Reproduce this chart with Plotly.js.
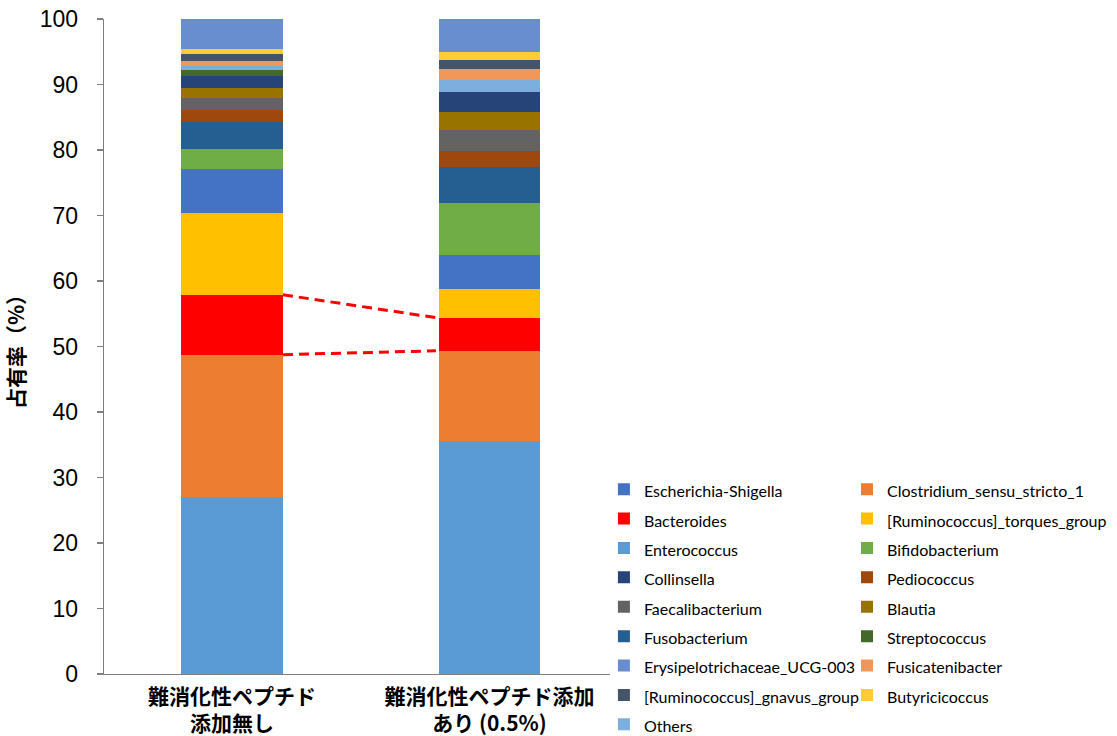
<!DOCTYPE html>
<html>
<head>
<meta charset="utf-8">
<script src="https://cdn.plot.ly/plotly-3.0.1.min.js"></script>
<style>html,body{margin:0;padding:0;background:#fff;}#chart{width:1117px;height:736px;}</style>
</head>
<body>
<div id="chart"></div>
<script>
// Categories (x axis)
const categories = ['難消化性ペプチド<br>添加無し', '難消化性ペプチド添加<br>あり (0.5%)'];

// Series in stacking order (bottom -> top)
const species = [
  'Enterococcus', 'Clostridium_sensu_stricto_1', 'Bacteroides', '[Ruminococcus]_torques_group',
  'Escherichia-Shigella', 'Bifidobacterium', 'Fusobacterium', 'Pediococcus',
  'Faecalibacterium', 'Blautia', 'Collinsella', 'Streptococcus',
  'Others', 'Fusicatenibacter', '[Ruminococcus]_gnavus_group', 'Butyricicoccus',
  'Erysipelotrichaceae_UCG-003'
];
// Occupancy (%) without additive
const noAddition = [27.0, 21.75, 9.15, 12.5, 6.65, 3.15, 4.05, 1.9, 1.85, 1.5, 1.85, 0.85, 0.7, 0.7, 1.05, 0.75, 4.6];
// Occupancy (%) with 0.5% additive
const withAddition = [35.6, 13.75, 5.05, 4.4, 5.2, 7.85, 5.55, 2.45, 3.2, 2.8, 2.95, 0.1, 1.85, 1.55, 1.4, 1.3, 5.0];
// Legend order (row-major, two columns)
const legendOrder = [
  'Escherichia-Shigella', 'Clostridium_sensu_stricto_1', 'Bacteroides', '[Ruminococcus]_torques_group',
  'Enterococcus', 'Bifidobacterium', 'Collinsella', 'Pediococcus', 'Faecalibacterium', 'Blautia',
  'Fusobacterium', 'Streptococcus', 'Erysipelotrichaceae_UCG-003', 'Fusicatenibacter',
  '[Ruminococcus]_gnavus_group', 'Butyricicoccus', 'Others'
];
const highlighted = 'Bacteroides';

// Styles
const colors = {
  'Enterococcus': '#5B9BD5', 'Clostridium_sensu_stricto_1': '#ED7D31', 'Bacteroides': '#FF0000',
  '[Ruminococcus]_torques_group': '#FFC000', 'Escherichia-Shigella': '#4472C4', 'Bifidobacterium': '#70AD47',
  'Fusobacterium': '#255E91', 'Pediococcus': '#9E480E', 'Faecalibacterium': '#636363', 'Blautia': '#997300',
  'Collinsella': '#264478', 'Streptococcus': '#43682B', 'Others': '#7CAFDD', 'Fusicatenibacter': '#F1975A',
  '[Ruminococcus]_gnavus_group': '#44546A', 'Butyricicoccus': '#FFCD33', 'Erysipelotrichaceae_UCG-003': '#698ED0'
};
const barWidth = 0.396;

const traces = species.map((name, i) => {
  const rank = legendOrder.indexOf(name);
  return {
    type: 'bar',
    name: '<span style="font-size:16px">' + name + '</span>',
    x: categories,
    y: [noAddition[i], withAddition[i]],
    width: barWidth,
    marker: {color: colors[name], line: {width: 0}},
    legend: rank % 2 === 0 ? 'legend' : 'legend2',
    legendrank: rank + 1,
    hoverinfo: 'y'
  };
});

// Dashed guide lines from the Bacteroides segment boundaries
const hi = species.indexOf(highlighted);
const sum = (arr, n) => arr.slice(0, n).reduce((a, b) => a + b, 0);
const leftBottom = sum(noAddition, hi), leftTop = sum(noAddition, hi + 1);
const rightBottom = sum(withAddition, hi), rightTop = sum(withAddition, hi + 1);
const dash = {color: '#FF0000', width: 3, dash: '10px,6px'};
const shapes = [
  {type: 'line', xref: 'x', yref: 'y', x0: barWidth / 2, x1: 1 - barWidth / 2 - 0.01, y0: leftTop, y1: rightTop, line: dash},
  {type: 'line', xref: 'x', yref: 'y', x0: barWidth / 2, x1: 1 - barWidth / 2 - 0.01, y0: leftBottom, y1: rightBottom, line: dash}
];

const legendFont = {family: 'Lato, Liberation Sans, sans-serif', size: 20.3, color: '#000'};

const layout = {
  width: 1117, height: 736,
  margin: {l: 104, r: 507, t: 19, b: 62, autoexpand: false},
  paper_bgcolor: '#fff', plot_bgcolor: '#fff',
  barmode: 'stack',
  showlegend: true,
  font: {family: 'Liberation Sans, Arial, sans-serif', color: '#000'},
  xaxis: {
    type: 'category',
    range: [-0.497, 1.468],
    showline: true, linecolor: '#7F7F7F', linewidth: 1.3,
    ticks: '', showgrid: false, zeroline: false,
    ticklabelstandoff: 3,
    tickfont: {family: 'Noto Sans CJK JP, sans-serif', size: 21, color: '#000', weight: 'bold'},
    automargin: false
  },
  yaxis: {
    range: [0, 100], dtick: 10, tick0: 0,
    showline: true, linecolor: '#7F7F7F', linewidth: 1.3,
    ticks: 'outside', ticklen: 6, tickcolor: '#7F7F7F', tickwidth: 1.3,
    ticklabelstandoff: 14,
    showgrid: false, zeroline: false,
    tickfont: {family: 'Liberation Sans, Arial, sans-serif', size: 23, color: '#000'},
    title: {text: '占有率（%）', font: {family: 'Noto Sans CJK JP, sans-serif', size: 21, color: '#000', weight: 'bold'}, standoff: 9},
    automargin: false
  },
  legend: {
    orientation: 'v',
    x: 0.988, xanchor: 'left',
    y: 0.3122, yanchor: 'top',
    traceorder: 'normal',
    font: legendFont,
    bgcolor: 'rgba(0,0,0,0)'
  },
  legend2: {
    orientation: 'v',
    x: 1.4684, xanchor: 'left',
    y: 0.3122, yanchor: 'top',
    traceorder: 'normal',
    font: legendFont,
    bgcolor: 'rgba(0,0,0,0)'
  },
  shapes: shapes
};

Plotly.newPlot('chart', traces, layout, {displayModeBar: false, staticPlot: true});
</script>
</body>
</html>
